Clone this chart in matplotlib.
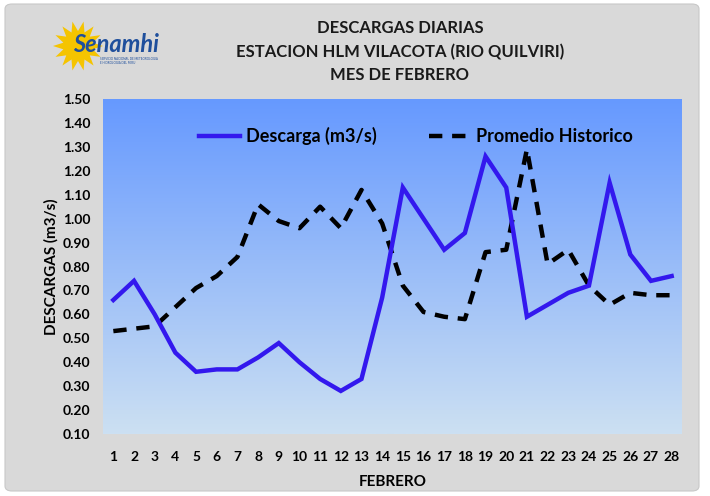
import matplotlib
matplotlib.use("Agg")
import matplotlib.pyplot as plt
from matplotlib.patches import FancyBboxPatch, Polygon
import numpy as np

plt.rcParams["font.family"] = ["Lato", "DejaVu Sans"]

dias = list(range(1, 29))
descarga = [0.66, 0.74, 0.60, 0.44, 0.36, 0.37, 0.37, 0.42, 0.48, 0.40,
            0.33, 0.28, 0.33, 0.67, 1.13, 1.00, 0.87, 0.94, 1.26, 1.13,
            0.59, 0.64, 0.69, 0.72, 1.15, 0.85, 0.74, 0.76]
promedio = [0.53, 0.54, 0.55, 0.63, 0.71, 0.76, 0.84, 1.06, 0.99, 0.96,
            1.05, 0.96, 1.12, 0.98, 0.72, 0.61, 0.59, 0.58, 0.86, 0.87,
            1.29, 0.81, 0.87, 0.72, 0.64, 0.69, 0.68, 0.68]
yticks = [round(0.1 * i, 2) for i in range(1, 16)]

fig = plt.figure(figsize=(7.1, 4.96), dpi=100)
fig.patch.set_facecolor("white")

# gray chart area behind everything
bg = FancyBboxPatch((5 / 710, 5 / 496), 694 / 710, 487 / 496,
                    boxstyle="round,pad=0,rounding_size=0.01",
                    transform=fig.transFigure, facecolor="#d9d9d9",
                    edgecolor="#c8c8c8", linewidth=0.8)
bg.set_zorder(-10)
fig.add_artist(bg)

ax = fig.add_axes([103 / 710, 1 - 434 / 496, 579 / 710, 335 / 496])
ax.set_zorder(1)
ax.set_xlim(0.5, 28.5)
ax.set_ylim(0.10, 1.50)

# gradient fill of the plot area
grad = np.linspace(0, 1, 256).reshape(-1, 1)
top = np.array([102, 153, 255]) / 255
bottom = np.array([204, 224, 242]) / 255
img = top + (bottom - top) * grad[:, :, None]
ax.imshow(img, extent=[0.5, 28.5, 0.10, 1.50], aspect="auto", zorder=0,
          origin="upper")

ax.plot(dias, descarga, color="#3318ee", lw=3.2, label="Descarga (m3/s)",
        zorder=3, solid_joinstyle="miter")
ax.plot(dias, promedio, color="black", lw=3.2, dashes=(3, 2.2),
        label="Promedio Historico", zorder=2)

for s in ax.spines.values():
    s.set_visible(False)
ax.set_xticks(dias)
ax.set_xticklabels([str(d) for d in dias], fontweight="bold", fontsize=10)
ax.set_yticks(yticks)
ax.set_yticklabels(["%.2f" % v for v in yticks], fontweight="bold", fontsize=10)
ax.tick_params(axis="x", length=0, pad=12)
ax.tick_params(axis="y", length=0, pad=9)
ax.set_xlabel("FEBRERO", fontweight="bold", fontsize=11, labelpad=9)
ax.set_ylabel("DESCARGAS (m3/s)", fontweight="bold", fontsize=11, labelpad=3)

leg = ax.legend(loc="upper center", bbox_to_anchor=(0.54, 0.965), ncol=2,
                frameon=False, handlelength=2.3, handletextpad=0.3,
                columnspacing=2.9, prop={"weight": "bold", "size": 13})

# titles
for y, t in [(28, "DESCARGAS DIARIAS"),
             (52, "ESTACION HLM VILACOTA (RIO QUILVIRI)"),
             (75, "MES DE FEBRERO")]:
    fig.text(400 / 710, 1 - y / 496, t, ha="center", va="center",
             fontsize=12, fontweight="bold", color="#1a1a1a")

# logo
cx, cy, r = 78, 46, 14
rays = []
n = 14
for i in range(2 * n):
    ang = np.pi * i / n
    rr = r + 11 if i % 2 == 0 else r + 1
    rays.append((cx + rr * np.cos(ang), cy + rr * np.sin(ang)))
fig.add_artist(Polygon([(x / 710, 1 - y / 496) for x, y in rays],
                       closed=True, transform=fig.transFigure,
                       facecolor="#f5c400", edgecolor="none", zorder=1))
fig.text(73 / 710, 1 - 45 / 496, "Senamhi", fontsize=17, fontweight="bold",
         style="italic", color="#1f4f9c", va="center", ha="left", zorder=2)
fig.text(100 / 710, 1 - 59 / 496, "SERVICIO NACIONAL DE METEOROLOGIA",
         fontsize=2.2, color="#1f4f9c", va="center", zorder=2)
fig.text(100 / 710, 1 - 63 / 496, "E HIDROLOGIA DEL PERU",
         fontsize=2.2, color="#1f4f9c", va="center", zorder=2)

fig.savefig("out.png", dpi=100, facecolor=fig.get_facecolor())
